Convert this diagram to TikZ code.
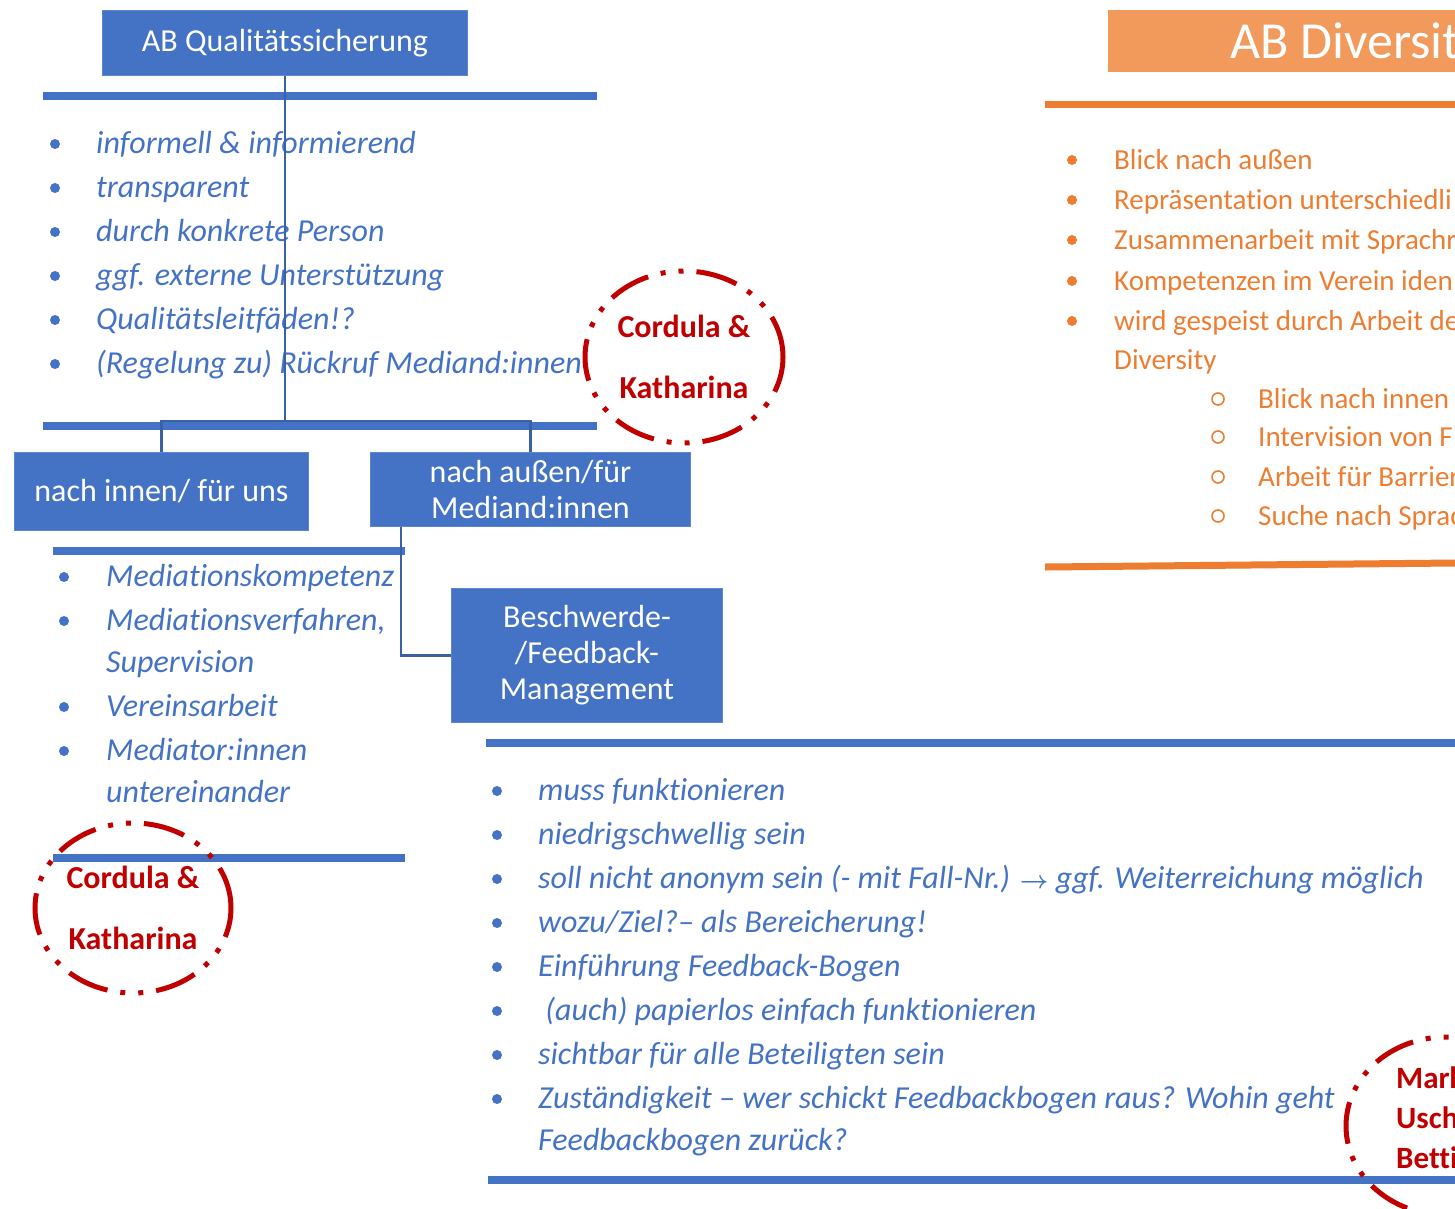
\documentclass[tikz,border=0pt]{standalone}
\usepackage{fontspec}
\setmainfont{Carlito}[Ligatures=NoCommon]
\usepackage{xcolor}
\usetikzlibrary{shapes.geometric}
\definecolor{QsBlue}{HTML}{4472C4}
\definecolor{QsEdge}{HTML}{5B86D0}
\definecolor{DivOrange}{HTML}{ED7D31}
\definecolor{DivFill}{HTML}{F19A5B}
\definecolor{NameRed}{HTML}{C00000}
\tikzstyle{qsBox}=[draw=QsEdge, line width=1pt, fill=QsBlue, text=white, align=center, inner sep=0pt, font=\fontsize{32}{36}\selectfont]
\tikzstyle{divBox}=[fill=DivFill, text=white, align=left, inner ysep=0pt, font=\fontsize{52}{60}\selectfont]
\tikzstyle{blueRule}=[QsBlue, line width=8pt]
\tikzstyle{orangeRule}=[DivOrange, line width=7pt]
\tikzstyle{treeLink}=[QsBlue!85!black, line width=2.5pt]
\tikzstyle{blueDot}=[circle, fill=QsBlue, inner sep=0pt, minimum size=10pt]
\tikzstyle{orangeDot}=[circle, fill=DivOrange, inner sep=0pt, minimum size=10pt]
\tikzstyle{orangeCirc}=[circle, draw=DivOrange, line width=1.6pt, inner sep=0pt, minimum size=12pt]
\tikzstyle{blueItem}=[anchor=west, inner sep=0pt, text height=19pt, text depth=0pt, text=QsBlue, font=\fontsize{32}{36}\selectfont\itshape]
\tikzstyle{orangeItem}=[anchor=west, inner sep=0pt, text height=18pt, text depth=0pt, text=DivOrange, font=\fontsize{29}{34}\selectfont]
\tikzstyle{nameRing}=[ellipse, draw=NameRed, line width=5pt, dash pattern=on 42pt off 13pt on 5pt off 13pt on 5pt off 13pt, text=NameRed, align=center, inner sep=0pt, font=\fontsize{32}{61}\selectfont\bfseries]

\begin{document}
\begin{tikzpicture}[x=1pt, y=-1pt]
    \useasboundingbox (0,0) rectangle (1455,1208);
    \clip (0,0) rectangle (1455,1208);

        % AB Qualitaetssicherung
        \node[qsBox, anchor=north west, minimum width=365pt, minimum height=65pt] (qsHead) at (102,10) {AB Qualitätssicherung};
        \draw[blueRule] (43,96) -- (597,96);
        \foreach \entry [count=\i] in {informell \& informierend, transparent, durch konkrete Person, ggf. externe Unterstützung, Qualitätsleitfäden!?, {(Regelung zu) Rückruf Mediand:innen}} {
            \node[blueDot] (qsDot\i) at (55,100+44*\i) {};
            \node[blueItem] (qsItem\i) at (96,100+44*\i) {\entry};
        }
        \draw[blueRule] (43,426) -- (597,426);
        \coordinate (qsFork) at (285,421);

        \node[qsBox, anchor=north west, minimum width=294pt, minimum height=78pt] (innenBox) at (14,452) {nach innen/ für uns};
        \node[qsBox, anchor=north west, minimum width=320pt, minimum height=74pt] (aussenBox) at (370,452) {nach außen/für\\Mediand:innen};
        \node[qsBox, anchor=north west, minimum width=271pt, minimum height=134pt] (feedbackBox) at (451,588) {Beschwerde-\\/Feedback-\\Management};

        % nach innen
        \draw[blueRule] (53,551) -- (405,551);
        \foreach \yy/\entry in {577/Mediationskompetenz, 621/{Mediationsverfahren,}, 663/Supervision, 707/Vereinsarbeit, 751/Mediator:innen, 793/untereinander}
            \node[blueItem] (innenItem\yy) at (106,\yy) {\entry};
        \foreach \yy in {577,621,707,751}
            \node[blueDot] (innenDot\yy) at (64,\yy) {};
        \draw[blueRule] (53,858) -- (405,858);

        % Beschwerde / Feedback
        \draw[blueRule] (486,743) -- (1455,743);
        \foreach \entry [count=\i] in {muss funktionieren, niedrigschwellig sein, soll nicht anonym sein (- mit Fall-Nr.) {\boldmath$\rightarrow$} ggf. Weiterreichung möglich, wozu/Ziel?– als Bereicherung!, Einführung Feedback-Bogen, \ (auch) papierlos einfach funktionieren, sichtbar für alle Beteiligten sein, Zuständigkeit – wer schickt Feedbackbogen raus? Wohin geht} {
            \node[blueDot] (fbDot\i) at (497,747+44*\i) {};
            \node[blueItem] (fbItem\i) at (538,747+44*\i) {\entry};
        }
        \node[blueItem] (fbItemEnd) at (538,1141) {Feedbackbogen zurück?};
        \draw[blueRule] (488,1180) -- (1455,1180);

        % AB Diversity
        \node[divBox, anchor=north west, inner xsep=122pt, minimum width=400pt, minimum height=62pt] (divHead) at (1108,10) {AB Diversit};
        \draw[orangeRule] (1045,104) -- (1455,104);
        \foreach \yy/\entry in {160/Blick nach außen, 200/Repräsentation unterschiedli, 240/Zusammenarbeit mit Sprachr, 281/Kompetenzen im Verein iden, 321/wird gespeist durch Arbeit de} {
            \node[orangeDot] (divDot\yy) at (1072,\yy) {};
            \node[orangeItem] (divItem\yy) at (1114,\yy) {\entry};
        }
        \node[orangeItem] (divItemCont) at (1114,360) {Diversity};
        \foreach \yy/\entry in {399/Blick nach innen, 437/Intervision von F, 477/Arbeit für Barrier, 516/Suche nach Sprac} {
            \node[orangeCirc] (subDot\yy) at (1218,\yy) {};
            \node[orangeItem] (subItem\yy) at (1258,\yy) {\entry};
        }
        \draw[orangeRule] (1045,567) -- (1455,563);

        % Zustaendig
        \node[nameRing, minimum width=198pt, minimum height=172pt] (ringTop) at (684,357) {Cordula \&\\Katharina};
        \node[nameRing, minimum width=196pt, minimum height=170pt] (ringLeft) at (133,908) {Cordula \&\\Katharina};
        \node[nameRing, minimum width=200pt, minimum height=178pt] (ringRight) at (1446,1126) {};
        \node[anchor=west, align=left, inner sep=0pt, text=NameRed, font=\fontsize{31}{40}\selectfont\bfseries] (ringRightText) at (1396,1118) {Mark\\Usch\\Betti};

        % connections
        \draw[treeLink] (qsHead.south) -- (qsFork);
        \draw[treeLink] (innenBox.north) -- (innenBox.north |- qsFork) -| (aussenBox.north);
        \draw[treeLink] ([xshift=31pt]aussenBox.south west) |- (feedbackBox.west);

\end{tikzpicture}
\end{document}
